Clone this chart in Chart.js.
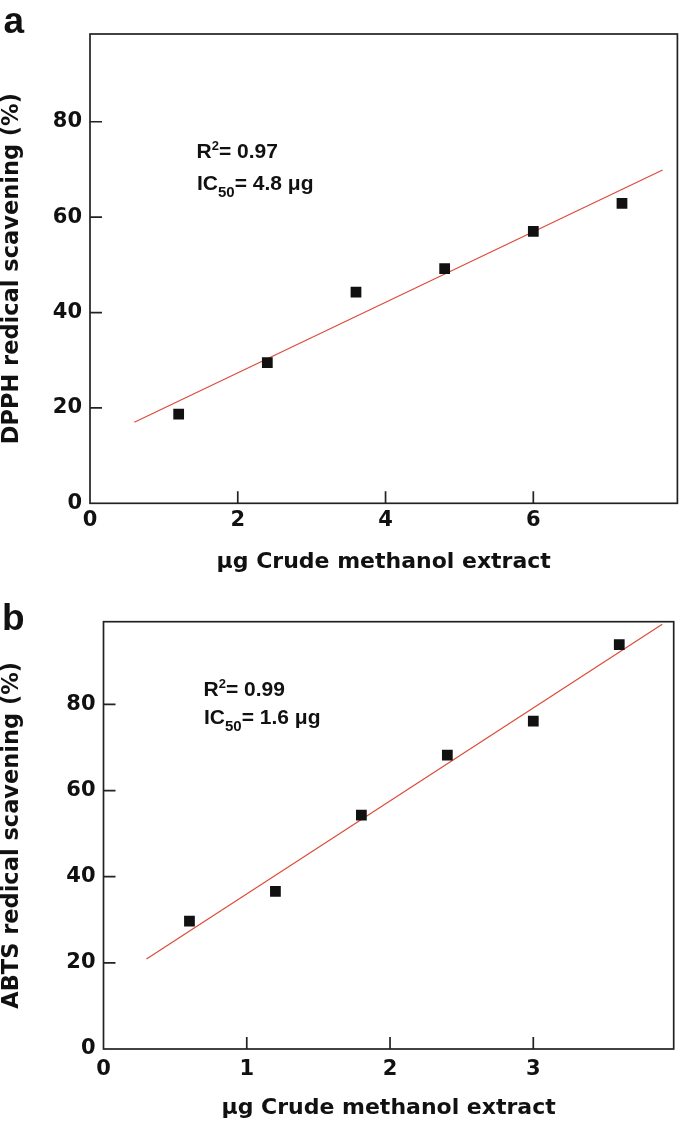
<!DOCTYPE html>
<html>
<head>
<meta charset="utf-8">
<script src="https://cdn.jsdelivr.net/npm/chart.js@4"></script>
<style>
html,body{margin:0;padding:0;background:#fff;}
#wrap{position:relative;width:685px;height:1127px;overflow:hidden;background:#fff;}
canvas{position:absolute;left:0;}
.t{position:absolute;font-family:"Liberation Sans",Arial,Helvetica,sans-serif;font-weight:bold;color:#111;white-space:nowrap;font-size:21px;line-height:21px;}
.sup{position:relative;top:-7.7px;font-size:13px;}
.sub{position:relative;top:7.3px;font-size:15px;}
.panel{font-size:37px;line-height:37px;}
</style>
</head>
<body>
<div id="wrap">
  <canvas id="cA" width="685" height="580" style="top:0px"></canvas>
  <canvas id="cB" width="685" height="547" style="top:580px"></canvas>
  <div class="t panel" style="left:3.6px;top:2px;">a</div>
  <div class="t panel" style="left:2px;top:599px;">b</div>
  <div class="t" style="left:196.5px;top:139.9px;">R<span class="sup">2</span>= 0.97</div>
  <div class="t" style="left:197px;top:172.2px;">IC<span class="sub">50</span>= 4.8 μg</div>
  <div class="t" style="left:203.5px;top:677.9px;">R<span class="sup">2</span>= 0.99</div>
  <div class="t" style="left:204px;top:706.2px;">IC<span class="sub">50</span>= 1.6 μg</div>
</div>
<script>
// ---- Panel a: DPPH ----
const doseA = [1.2, 2.4, 3.6, 4.8, 6.0, 7.2];
const dpph = [18.7, 29.5, 44.3, 49.2, 57.0, 62.9];
const fitAx = [0.6, 7.75];
const fitAy = [17.0, 69.9];
const xTicksA = [0, 2, 4, 6];
const yTicksA = [0, 20, 40, 60, 80];

// ---- Panel b: ABTS ----
const doseB = [0.6, 1.2, 1.8, 2.4, 3.0, 3.6];
const abts = [29.7, 36.6, 54.3, 68.2, 76.1, 93.9];
const fitBx = [0.3, 3.9];
const fitBy = [20.9, 98.6];
const xTicksB = [0, 1, 2, 3];
const yTicksB = [0, 20, 40, 60, 80];

const xTitle = 'μg Crude methanol extract';
const yTitleA = 'DPPH redical scavening (%)';
const yTitleB = 'ABTS redical scavening (%)';

const INK = '#111';
const AXIS = '#222';
const RED = '#dc4b3a';

const framePlugin = {
  id: 'frame',
  beforeDatasetsDraw(chart) {
    const {ctx, chartArea: a, scales: {x, y}} = chart;
    ctx.save();
    ctx.strokeStyle = AXIS;
    ctx.lineWidth = 1.7;
    ctx.strokeRect(a.left, a.top, a.right - a.left, a.bottom - a.top);
    ctx.beginPath();
    x.ticks.forEach(t => {
      if (t.value === x.min) return;
      const p = x.getPixelForValue(t.value);
      ctx.moveTo(p, a.bottom); ctx.lineTo(p, a.bottom - 12);
    });
    y.ticks.forEach(t => {
      if (t.value === y.min) return;
      const p = y.getPixelForValue(t.value);
      ctx.moveTo(a.left, p); ctx.lineTo(a.left + 12, p);
    });
    ctx.stroke();
    ctx.restore();
  }
};

function makeChart(id, o) {
  const tickFont = {family: '"DejaVu Sans", sans-serif', weight: 'bold', size: 21};
  const titleFont = {family: '"DejaVu Sans", sans-serif', weight: 'bold', size: 22.5, lineHeight: 1.1};
  const xtitleFont = {family: '"DejaVu Sans", sans-serif', weight: 'bold', size: 22, lineHeight: 1.2};
  return new Chart(document.getElementById(id), {
    type: 'scatter',
    data: {
      datasets: [
        {
          data: o.xs.map((v, i) => ({x: v, y: o.ys[i]})),
          pointStyle: 'rect', pointRadius: 7.6, pointBackgroundColor: INK,
          pointBorderColor: INK, pointBorderWidth: 0, showLine: false
        },
        {
          data: o.fx.map((v, i) => ({x: v, y: o.fy[i]})),
          showLine: true, pointRadius: 0, borderColor: RED, borderWidth: 1.2, fill: false
        }
      ]
    },
    options: {
      responsive: false, animation: false, events: [],
      layout: {padding: {left: 0, top: o.padTop, right: o.padRight, bottom: 0}},
      plugins: {legend: {display: false}, tooltip: {enabled: false}},
      scales: {
        x: {
          type: 'linear', min: 0, max: o.xmax,
          afterBuildTicks: s => { s.ticks = o.xt.map(v => ({value: v})); },
          afterFit: s => { s.height = o.xh; },
          grid: {display: false, drawTicks: false}, border: {display: false},
          ticks: {padding: o.xpad, color: INK, font: tickFont, maxRotation: 0, autoSkip: false},
          title: {display: true, text: xTitle, color: INK, font: xtitleFont, padding: {top: 0, bottom: o.xtpad}}
        },
        y: {
          type: 'linear', min: 0, max: o.ymax,
          afterBuildTicks: s => { s.ticks = o.yt.map(v => ({value: v})); },
          afterFit: s => { s.width = o.yw; },
          grid: {display: false, drawTicks: false}, border: {display: false},
          ticks: {padding: 8, color: INK, font: tickFont, autoSkip: false},
          title: {display: true, text: o.ytitle, color: INK, font: titleFont, padding: {top: 0, bottom: 0}}
        }
      }
    },
    plugins: [framePlugin]
  });
}

makeChart('cA', {
  xs: doseA, ys: dpph, fx: fitAx, fy: fitAy, xt: xTicksA, yt: yTicksA,
  xmax: 7.95, ymax: 98.4, padTop: 34, padRight: 2.6, yw: 90, xh: 76.7,
  xpad: 5, xtpad: 5, ytitle: yTitleA
});
makeChart('cB', {
  xs: doseB, ys: abts, fx: fitBx, fy: fitBy, xt: xTicksB, yt: yTicksB,
  xmax: 3.98, ymax: 99.2, padTop: 41.7, padRight: 11.3, yw: 103.5, xh: 78,
  xpad: 8, xtpad: 6, ytitle: yTitleB
});
</script>
</body>
</html>
